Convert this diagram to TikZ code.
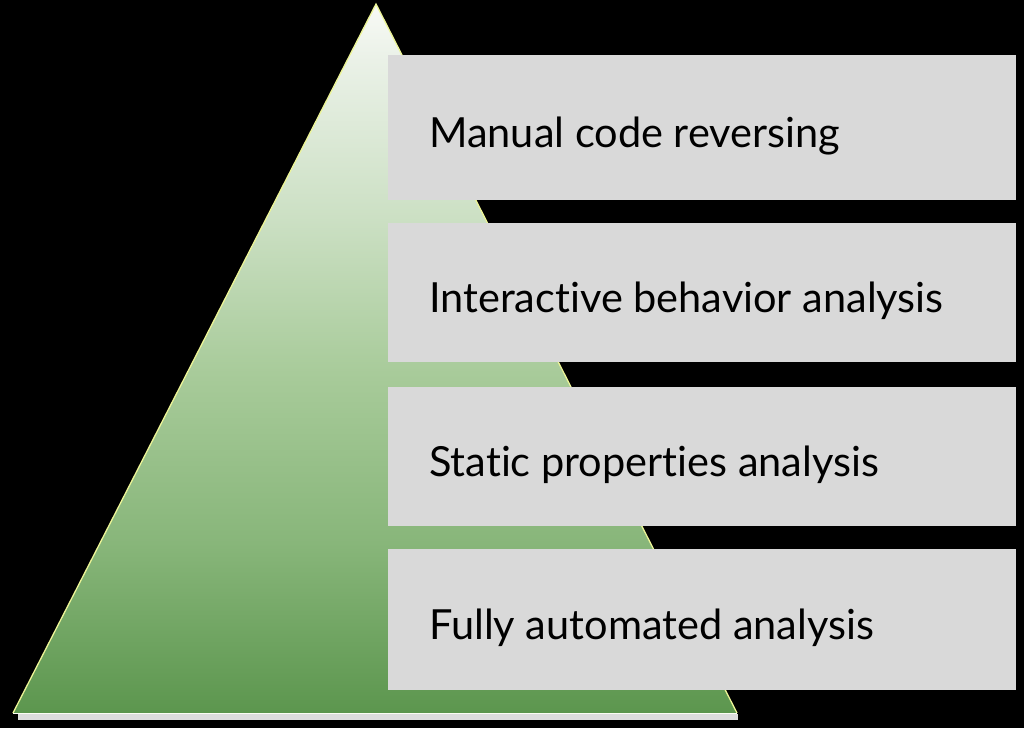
\documentclass[tikz,border=0pt]{standalone}
\usepackage{fontspec}
\setmainfont{Lato}[Ligatures=NoCommon]
\begin{document}
\begin{tikzpicture}[x=1pt,y=-1pt,
  box/.style={fill=boxgray, draw=none, minimum width=628pt, anchor=north west, inner sep=0pt},
  lbl/.style={anchor=base west, font=\fontsize{41.5}{44}\selectfont, text=black, inner sep=0pt}]
\definecolor{boxgray}{RGB}{217,217,217}
\definecolor{edgey}{RGB}{236,244,150}
\pgfdeclareverticalshading{pyr}{100bp}{
  color(0bp)=(rgb,255:red,90;green,148;blue,76);
  color(25bp)=(rgb,255:red,92;green,150;blue,78);
  color(37bp)=(rgb,255:red,136;green,182;blue,122);
  color(49bp)=(rgb,255:red,168;green,203;blue,154);
  color(60bp)=(rgb,255:red,204;green,224;blue,196);
  color(71bp)=(rgb,255:red,234;green,241;blue,231);
  color(75bp)=(rgb,255:red,248;green,250;blue,246);
  color(100bp)=(rgb,255:red,248;green,250;blue,246)}
\useasboundingbox (0,0) rectangle (1024,728);
\fill[black] (0,0) rectangle (1024,728);
% base shadow strip
\fill[boxgray!90!white] (18,714) rectangle (738,720);
% pyramid
\coordinate (apex) at (376,4);
\coordinate (bl) at (13,713);
\coordinate (br) at (737,713);
\shade[shading=pyr] (apex) -- (bl) -- (br) -- cycle;
\draw[edgey, line width=1.3pt, line join=miter] (bl) -- (apex) -- (br);
\draw[white!90!edgey, line width=0.8pt] (bl) -- (br);
% boxes
\node[box, minimum height=145pt] (b1) at (388,55) {};
\node[box, minimum height=139pt] (b2) at (388,223) {};
\node[box, minimum height=139pt] (b3) at (388,387) {};
\node[box, minimum height=141pt] (b4) at (388,549) {};
% labels
\node[lbl] (t1) at ([xshift=41pt,yshift=-19.5pt]b1.west) {Manual code reversing};
\node[lbl] (t2) at ([xshift=41pt,yshift=-19.5pt]b2.west) {Interactive behavior analysis};
\node[lbl] (t3) at ([xshift=41pt,yshift=-19.5pt]b3.west) {Static properties analysis};
\node[lbl] (t4) at ([xshift=41pt,yshift=-19.5pt]b4.west) {Fully automated analysis};
\end{tikzpicture}
\end{document}
